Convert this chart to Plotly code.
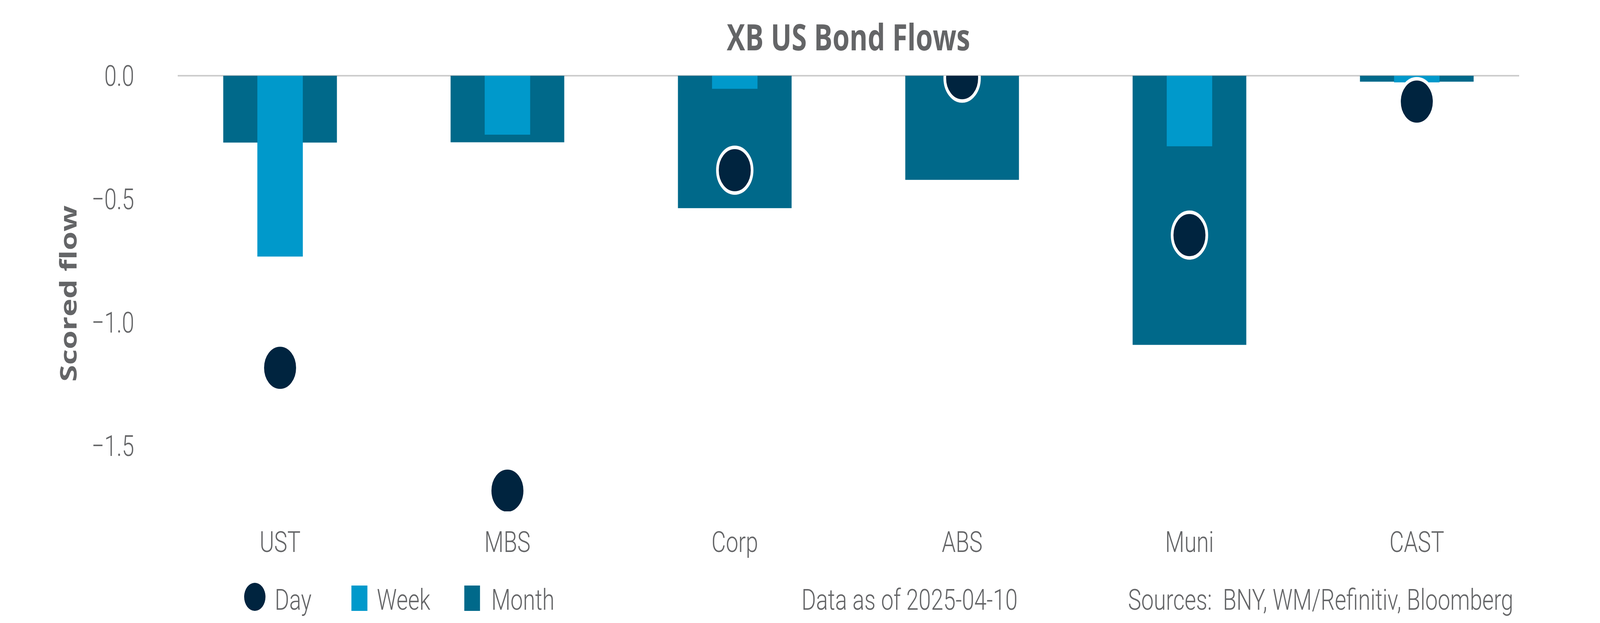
import plotly.graph_objects as go

# values
categories = ["UST", "MBS", "Corp", "ABS", "Muni", "CAST"]
day = [-1.184, -1.682, -0.383, -0.01, -0.646, -0.105]
week = [-0.733, -0.239, -0.053, 0.0, -0.286, -0.027]
month = [-0.271, -0.27, -0.537, -0.422, -1.091, -0.024]
y_ticks = [0.0, -0.5, -1.0, -1.5]
y_tick_labels = ["0.0", "\u22120.5", "\u22121.0", "\u22121.5"]

title_text = "XB US Bond Flows"
y_title = "Scored flow"
legend_names = ["Day", "Week", "Month"]
date_note = "Data as of 2025-04-10"
source_note = "Sources:&nbsp; BNY, WM/Refinitiv, Bloomberg"

W, H = 5400, 1596
M_L, M_R, M_T, M_B = 600, 273, 194, 286

DAY_C = "#00243F"
WEEK_C = "#0099CB"
MONTH_C = "#00698A"
GREY = "#646567"
THIN = "Roboto, DejaVu Sans Condensed, sans-serif"
BOLD = "Open Sans, Lato, sans-serif"


def px(x):
    # page pixel -> paper fraction (x)
    return (x - M_L) / (W - M_L - M_R)


def py(y):
    # page pixel -> paper fraction (y)
    return (H - M_B - y) / (H - M_T - M_B)


fig = go.Figure()

fig.add_trace(go.Bar(
    x=categories, y=month, name="Month", width=0.5,
    marker=dict(color=MONTH_C, line=dict(width=0)),
))
fig.add_trace(go.Bar(
    x=categories, y=week, name="Week", width=0.2,
    marker=dict(color=WEEK_C, line=dict(width=0)),
))
fig.add_trace(go.Scatter(
    x=categories, y=day, name="Day", mode="markers",
    marker=dict(color=DAY_C, size=117, line=dict(color="white", width=9)),
))

# hand-made legend (plotly caps legend symbol size)
shapes = [
    dict(type="circle", xref="paper", yref="paper",
         x0=px(824), x1=px(896), y0=py(1565), y1=py(1493),
         fillcolor=DAY_C, line=dict(width=0)),
    dict(type="rect", xref="paper", yref="paper",
         x0=px(1186), x1=px(1240), y0=py(1565), y1=py(1500),
         fillcolor=WEEK_C, line=dict(width=0)),
    dict(type="rect", xref="paper", yref="paper",
         x0=px(1567), x1=px(1620), y0=py(1565), y1=py(1500),
         fillcolor=MONTH_C, line=dict(width=0)),
]

note_font = dict(family=THIN, size=75, color=GREY, weight=300)
annotations = []
for name, left in zip(legend_names, [925, 1270, 1656]):
    annotations.append(dict(
        text=name, xref="paper", yref="paper", x=px(left), y=py(1536),
        xanchor="left", yanchor="middle", showarrow=False, font=note_font,
    ))
annotations.append(dict(
    text=date_note, xref="paper", yref="paper", x=px(2703), y=py(1536),
    xanchor="left", yanchor="middle", showarrow=False, font=note_font,
))
annotations.append(dict(
    text=source_note, xref="paper", yref="paper", x=px(5110), y=py(1536),
    xanchor="right", yanchor="middle", showarrow=False, font=note_font,
))

fig.update_layout(
    width=W, height=H,
    margin=dict(l=M_L, r=M_R, t=M_T, b=M_B, autoexpand=False),
    paper_bgcolor="white", plot_bgcolor="white",
    barmode="overlay", showlegend=False,
    title=dict(text=title_text, x=0.5, xref="paper", y=1 - 96 / H,
               yref="container", xanchor="center", yanchor="middle",
               font=dict(family=BOLD, size=93, color=GREY, weight="bold")),
    shapes=shapes, annotations=annotations,
)

fig.update_xaxes(
    range=[-0.45, 5.45], showgrid=False, showline=False, zeroline=False,
    ticks="", ticklabelstandoff=28,
    tickfont=dict(family=THIN, size=75, color=GREY, weight=300),
)
fig.update_yaxes(
    range=[-1.766, 0], tickvals=y_ticks, ticktext=y_tick_labels,
    showgrid=False, showline=False, ticks="", ticklabelstandoff=146,
    zeroline=True, zerolinecolor="#CCCCCC", zerolinewidth=4,
    tickfont=dict(family=THIN, size=75, color=GREY, weight=300),
    title=dict(text=y_title, standoff=24,
               font=dict(family=BOLD, size=78, color=GREY, weight="bold")),
)

# the browser clamps the window width, so fit the 5400x1596 page to it
fit = (
    "var gd=document.getElementById('{plot_id}');"
    "var sx=window.innerWidth/%d, sy=window.innerHeight/%d;"
    "document.documentElement.style.overflow='hidden';"
    "document.body.style.margin='0';document.body.style.overflow='hidden';"
    "gd.style.transformOrigin='0 0';"
    "gd.style.transform='scale('+sx+','+sy+')';" % (W, H)
)
fig.write_html("out.html", post_script=fit,
               config={"displayModeBar": False, "staticPlot": True})
